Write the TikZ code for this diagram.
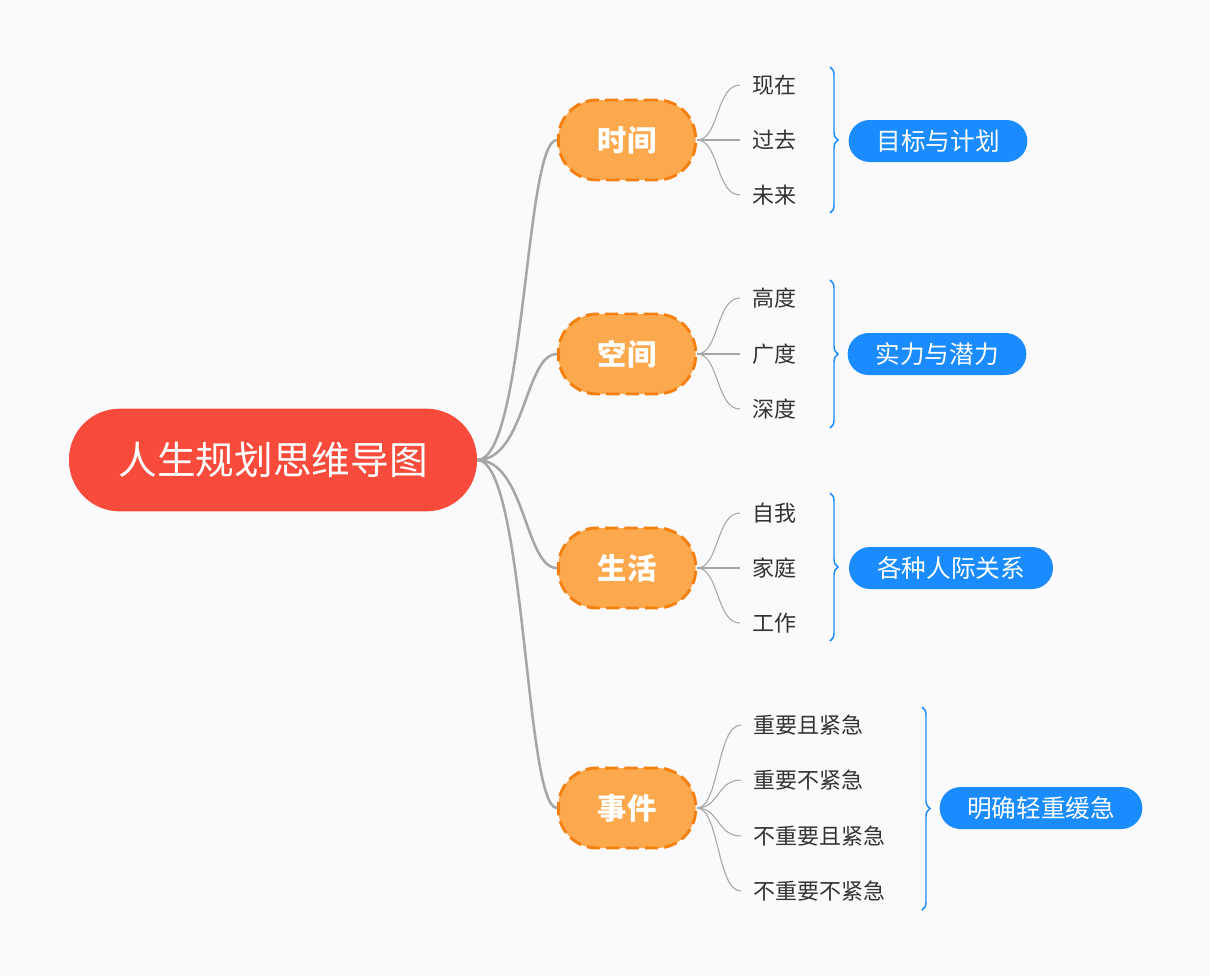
\documentclass[tikz,border=0pt]{standalone}
\usepackage{fontspec}
\setmainfont{Noto Sans CJK SC}
\usetikzlibrary{decorations.pathreplacing}
\definecolor{bgc}{HTML}{FAFAFC}
\definecolor{rootred}{HTML}{F94B3C}
\definecolor{orfill}{HTML}{FCA94E}
\definecolor{ordraw}{HTML}{F5800F}
\definecolor{tagblue}{HTML}{1A8CFF}
\definecolor{linegrey}{HTML}{A6A6A6}
\definecolor{leaftext}{HTML}{333333}
\tikzset{
  rootnode/.style={fill=rootred, text=white, minimum width=306pt, minimum height=77pt,
    rounded corners=38pt, font=\fontsize{29}{34}\selectfont, inner sep=0pt},
  topic/.style={fill=orfill, draw=ordraw, line width=2.2pt, dash pattern=on 10pt off 4.5pt,
    text=white, minimum width=103pt, minimum height=60pt, rounded corners=29pt,
    font=\fontsize{22}{26}\selectfont\bfseries, inner sep=0pt},
  leaf/.style={anchor=west, text=leaftext, inner xsep=9pt, inner ysep=2pt,
    font=\fontsize{16.5}{20}\selectfont},
  tag/.style={fill=tagblue, text=white, minimum height=31.5pt, rounded corners=15.7pt,
    font=\fontsize{18.5}{22}\selectfont, inner sep=0pt},
  mainline/.style={draw=linegrey, line width=1.9pt},
  subline/.style={draw=linegrey, line width=0.8pt},
  bracebl/.style={draw=tagblue, line width=1.1pt, decorate,
    decoration={brace, amplitude=6pt}},
}
\begin{document}
\begin{tikzpicture}[x=0.75pt,y=-0.75pt]
\useasboundingbox[fill=bgc] (0,0) rectangle (1210,976);

\node[rootnode] (root) at (273,460) {人生规划思维导图};

\node[topic] (t1) at (627,140) {时间};
\node[topic] (t2) at (627,354) {空间};
\node[topic] (t3) at (627,568) {生活};
\node[topic] (t4) at (627,808) {事件};

\foreach \t/\y in {t1/140,t2/354,t3/568,t4/808}{
  \draw[mainline] (root.east) .. controls +(48,0) and (525,\y) .. (\t.west);
}

% leaves
\node[leaf] (a1) at (740,85) {现在};
\node[leaf] (a2) at (740,140) {过去};
\node[leaf] (a3) at (740,195) {未来};
\node[leaf] (b1) at (740,298) {高度};
\node[leaf] (b2) at (740,354) {广度};
\node[leaf] (b3) at (740,409) {深度};
\node[leaf] (c1) at (740,513) {自我};
\node[leaf] (c2) at (740,568) {家庭};
\node[leaf] (c3) at (740,623) {工作};
\node[leaf] (d1) at (741,725) {重要且紧急};
\node[leaf] (d2) at (741,780) {重要不紧急};
\node[leaf] (d3) at (741,836) {不重要且紧急};
\node[leaf] (d4) at (741,891) {不重要不紧急};

\foreach \t/\l in {t1/a1,t1/a2,t1/a3,t2/b1,t2/b2,t2/b3,t3/c1,t3/c2,t3/c3,t4/d1,t4/d2,t4/d3,t4/d4}{
  \draw[subline] (\t.east) .. controls +(22,0) and +(-24,0) .. (\l.west);
}

% braces
\coordinate (r1a) at (830,67);  \coordinate (r1b) at (830,213);
\coordinate (r2a) at (830,280); \coordinate (r2b) at (830,428);
\coordinate (r3a) at (830,493); \coordinate (r3b) at (830,641);
\coordinate (r4a) at (922,707); \coordinate (r4b) at (922,910);
\draw[bracebl] (r1a) -- (r1b);
\draw[bracebl] (r2a) -- (r2b);
\draw[bracebl] (r3a) -- (r3b);
\draw[bracebl] (r4a) -- (r4b);

% tags
\node[tag, minimum width=134pt] (g1) at (938,141) {目标与计划};
\node[tag, minimum width=134pt] (g2) at (937,354) {实力与潜力};
\node[tag, minimum width=153pt] (g3) at (951,568) {各种人际关系};
\node[tag, minimum width=152pt] (g4) at (1041,808) {明确轻重缓急};
\end{tikzpicture}
\end{document}
